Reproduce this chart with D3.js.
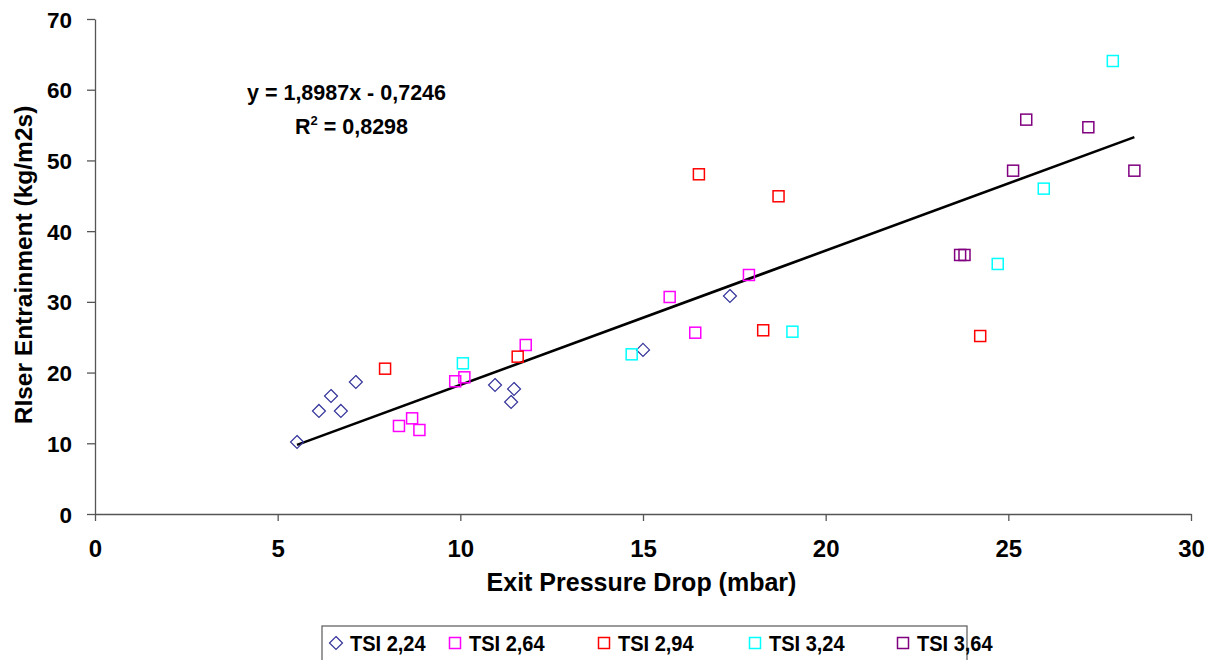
<!DOCTYPE html>
<html><head><meta charset="utf-8">
<script src="https://cdn.jsdelivr.net/npm/d3@7"></script>
<style>body{margin:0;background:#fff}svg{display:block}text{font-family:"Liberation Sans",Arial,sans-serif;font-weight:bold}</style>
</head><body><svg id="c" width="1217" height="660"></svg>
<script>
const seriesNames = ["TSI 2,24","TSI 2,64","TSI 2,94","TSI 3,24","TSI 3,64"];
const seriesColors = ["#333399","#FF00FF","#FF0000","#00FFFF","#800080"];
const seriesShapes = ["diamond","square","square","square","square"];
const tsi224_x = [5.53,6.13,6.46,6.73,7.14,10.95,11.47,11.39,15.0,17.38];
const tsi224_y = [10.18,14.57,16.69,14.57,18.67,18.24,17.68,15.84,23.2,30.83];
const tsi264_x = [8.32,8.68,8.88,9.86,10.11,11.79,15.73,16.43,17.90];
const tsi264_y = [12.45,13.53,11.88,18.77,19.33,23.9,30.69,25.64,33.8];
const tsi294_x = [7.94,11.57,16.53,18.71,18.29,24.23];
const tsi294_y = [20.55,22.25,48.04,44.93,25.98,25.17];
const tsi324_x = [10.07,14.69,19.09,27.86,25.97,24.71];
const tsi324_y = [21.31,22.58,25.78,64.06,46.01,35.36];
const tsi364_x = [25.49,27.19,25.13,28.45,23.68,23.80];
const tsi364_y = [55.77,54.69,48.55,48.55,36.63,36.63];
const xTicks = [0,5,10,15,20,25,30];
const yTicks = [0,10,20,30,40,50,60,70];
const trendSlope = 1.8987, trendIntercept = -0.7246;
const eqLines = ["y = 1,8987x - 0,7246","R² = 0,8298"];
const xTitle = "Exit Pressure Drop (mbar)";
const yTitle = "RIser Entrainment (kg/m2s)";

const xs = [tsi224_x,tsi264_x,tsi294_x,tsi324_x,tsi364_x];
const ys = [tsi224_y,tsi264_y,tsi294_y,tsi324_y,tsi364_y];

const svg = d3.select("#c");
const x = d3.scaleLinear().domain([0,30]).range([95,1191]);
const y = d3.scaleLinear().domain([0,70]).range([514,19]);

const axisColor = "#555";
const xa = svg.append("g").attr("transform","translate(0,514)")
  .call(d3.axisBottom(x).tickValues(xTicks).tickSize(7).tickPadding(19).tickSizeOuter(0));
const ya = svg.append("g").attr("transform","translate(95,0)")
  .call(d3.axisLeft(y).tickValues(yTicks).tickSize(8).tickPadding(15).tickSizeOuter(0));
[xa,ya].forEach(g=>{
  g.selectAll("path,line").attr("stroke",axisColor).attr("stroke-width",1.3);
  g.selectAll("text").attr("fill","#000")
   .style("font-family","'Liberation Sans',Arial,sans-serif").style("font-weight","bold");
});
xa.selectAll("text").attr("font-size",24);
ya.selectAll("text").attr("font-size",22.5).attr("dy","0.36em");

// trend line
const allX = xs.flat();
const x0 = d3.min(allX), x1 = d3.max(allX);
svg.append("line")
  .attr("x1",x(x0)).attr("y1",y(trendSlope*x0+trendIntercept))
  .attr("x2",x(x1)).attr("y2",y(trendSlope*x1+trendIntercept))
  .attr("stroke","#000").attr("stroke-width",2.6);

// markers
function marker(g, shape, color, cx, cy){
  if(shape==="diamond"){
    g.append("path").attr("d",`M${cx},${cy-6.5}L${cx+6.5},${cy}L${cx},${cy+6.5}L${cx-6.5},${cy}Z`)
     .attr("fill","none").attr("stroke",color).attr("stroke-width",1.2);
  } else {
    g.append("rect").attr("x",cx-5.5).attr("y",cy-5.5).attr("width",11).attr("height",11)
     .attr("fill","none").attr("stroke",color).attr("stroke-width",1.5);
  }
}
const mg = svg.append("g");
xs.forEach((arr,i)=>{
  arr.forEach((v,j)=>marker(mg, seriesShapes[i], seriesColors[i], x(v), y(ys[i][j])));
});

// equation
svg.append("text").attr("x",346.5).attr("y",99.5).attr("text-anchor","middle").attr("font-size",21.5).text(eqLines[0]);
const r2 = svg.append("text").attr("x",295).attr("y",133.5).attr("font-size",21.5);
r2.append("tspan").text("R");
r2.append("tspan").attr("font-size",13).attr("dy",-9).text("2");
r2.append("tspan").attr("dy",9).text(" = 0,8298");

// axis titles
svg.append("text").attr("x",641.5).attr("y",591).attr("text-anchor","middle").attr("font-size",25).text(xTitle);
svg.append("text").attr("transform","translate(32,265) rotate(-90)").attr("text-anchor","middle").attr("font-size",24.5).text(yTitle);

// legend
const lg = svg.append("g");
lg.append("rect").attr("x",322).attr("y",626).attr("width",645).attr("height",45)
  .attr("fill","#fff").attr("stroke","#666").attr("stroke-width",1.3);
const legX = [336,455,604,755,903];
seriesNames.forEach((n,i)=>{
  marker(lg, seriesShapes[i], seriesColors[i], legX[i], 643);
  lg.append("text").attr("x",legX[i]+14).attr("y",651).attr("font-size",20)
    .attr("transform",`translate(0,651) scale(1,1.07) translate(0,-651)`).text(n);
});
</script></body></html>
